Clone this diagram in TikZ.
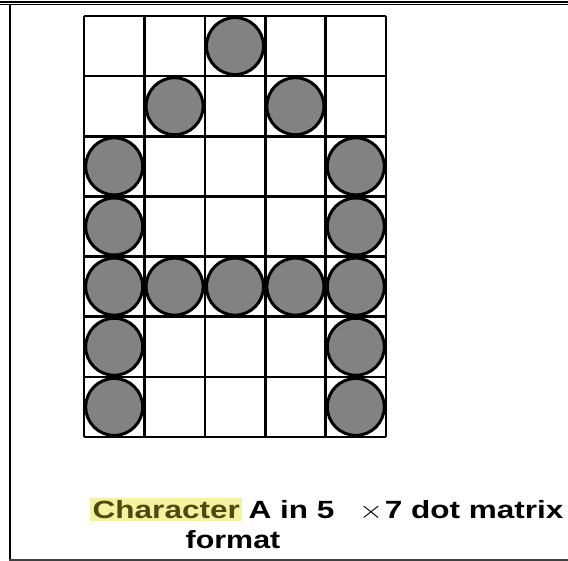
\documentclass[tikz,border=0pt]{standalone}
\usepackage{fontspec}
\setmainfont{Liberation Sans}
\begin{document}
\begin{tikzpicture}[x=1bp,y=-1bp,
  gridline/.style={line width=2.6bp,black},
  dot/.style={circle,draw=black,line width=3bp,fill=dotgray,minimum size=57bp,inner sep=0pt},
  frameline/.style={line width=2bp,black},
  captext/.style={inner sep=0pt,font=\bfseries\fontsize{25}{30}\selectfont}]
\definecolor{dotgray}{HTML}{828282}
\definecolor{hl}{HTML}{F6F3A0}
\definecolor{olive}{HTML}{4E4A12}
\useasboundingbox (0,0) rectangle (568,561);
\fill[white] (0,0) rectangle (568,561);
% frame
\draw[frameline] (0,1.8) -- (568,1.8);
\draw[line width=1.4bp] (0,4.8) -- (568,4.8);
\draw[frameline] (10,5) -- (10,559.5);
\draw[line width=2bp,black!75] (9,559.5) -- (568,559.5);
% grid
\foreach \i in {0,...,5} {
  \draw[gridline] ({84+60.4*\i},16) -- ({84+60.4*\i},437);
}
\foreach \j in {0,...,7} {
  \draw[gridline] (84,{16+60.14*\j}) -- (386,{16+60.14*\j});
}
% dots
\foreach \c/\r in {2/0, 1/1, 3/1, 0/2, 4/2, 0/3, 4/3, 0/4, 1/4, 2/4, 3/4, 4/4, 0/5, 4/5, 0/6, 4/6} {
  \node[dot] (d\c\r) at ({84+60.4*\c+30.2},{16+60.14*\r+30.07}) {};
}
% caption
\node[captext,anchor=base west] (cap1) at (90,518.5)
  {\scalebox{1.265}[1]{\setlength{\fboxsep}{2bp}\colorbox{hl}{\textcolor{olive}{Character}}\hspace{-2bp} A in 5 \hspace{0.5em}$\times$\hspace{0.05em}7 dot matrix}};
\node[captext,anchor=base] (cap2) at (233,548) {\scalebox{1.22}[1]{format}};
\end{tikzpicture}
\end{document}
